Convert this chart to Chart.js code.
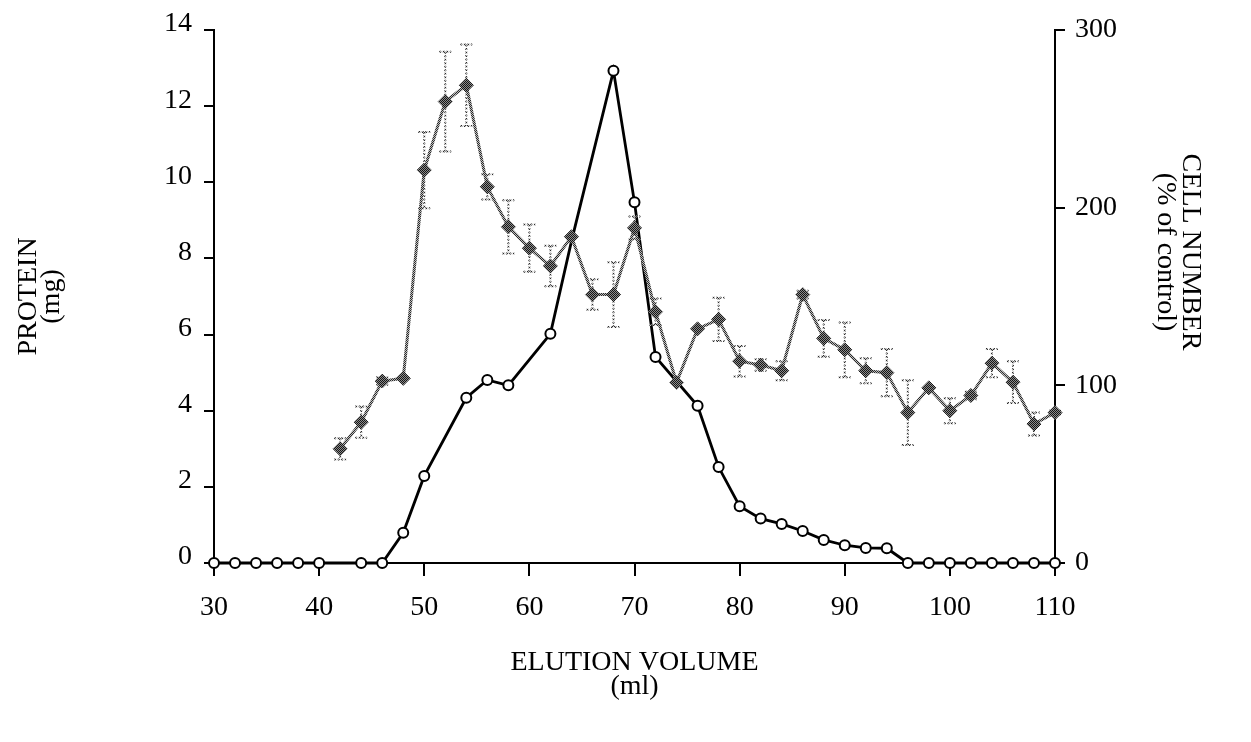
<!DOCTYPE html>
<html>
<head>
<meta charset="utf-8">
<script src="https://cdn.jsdelivr.net/npm/chart.js@4.4.1/dist/chart.umd.min.js"></script>
<style>
html,body{margin:0;padding:0;background:#fff;}
#wrap{width:1251px;height:742px;position:relative;}
</style>
</head>
<body>
<div id="wrap"><canvas id="c"></canvas></div>
<script>
// ---- data ----
const xTicks = [30, 40, 50, 60, 70, 80, 90, 100, 110];
const proteinTicks = [0, 2, 4, 6, 8, 10, 12, 14];
const cellTicks = [0, 100, 200, 300];

const proteinVolume = [42,44,46,48,50,52,54,56,58,60,62,64,66,68,70,72,74,76,78,80,82,84,86,88,90,92,94,96,98,100,102,104,106,108,110];
const proteinMg     = [3.0,3.7,4.78,4.85,10.32,12.12,12.55,9.88,8.83,8.27,7.8,8.57,7.05,7.05,8.8,6.6,4.74,6.15,6.4,5.3,5.2,5.05,7.05,5.9,5.6,5.05,5.0,3.95,4.6,4.0,4.4,5.25,4.75,3.65,3.95];
const proteinErr    = [0.28,0.41,0.1,0,1.0,1.31,1.07,0.33,0.7,0.62,0.53,0,0.4,0.85,0.3,0.35,0,0,0.57,0.4,0.15,0.25,0.1,0.48,0.72,0.33,0.62,0.85,0,0.33,0.1,0.37,0.55,0.3,0.05];

const cellVolume = [30,32,34,36,38,40,44,46,48,50,54,56,58,62,64,68,70,72,76,78,80,82,84,86,88,90,92,94,96,98,100,102,104,106,108,110];
const cellPct    = [0,0,0,0,0,0,0,0,17,49,93,103,100,129,181,277,203,116,88.5,54,32,25,22,18,13,10,8.5,8.3,0,0,0,0,0,0,0,0];
const cellHiddenAt = [64];   // points covered by the protein markers

// ---- patterns (halftone look) ----
function makePattern(a, b){
  const pc = document.createElement('canvas'); pc.width = 2; pc.height = 2;
  const g = pc.getContext('2d');
  g.fillStyle = b; g.fillRect(0,0,2,2);
  g.fillStyle = a; g.fillRect(0,0,1,1); g.fillRect(1,1,1,1);
  return g.createPattern(pc, 'repeat');
}
const ctx0 = document.getElementById('c').getContext('2d');
const lineHalftone = makePattern('#2a2a2a', '#bdbdbd');
const markHalftone = makePattern('#151515', '#8c8c8c');

Chart.defaults.font.family = '"Liberation Serif", "Times New Roman", serif';
Chart.defaults.color = '#000';

const F = 28;

const errorBars = {
  id: 'errorBars',
  beforeDatasetDraw(chart, args){
    if (args.index !== 0) return;
    const {ctx, scales} = chart;
    const xs = scales.x, ys = scales.y;
    ctx.save();
    ctx.strokeStyle = lineHalftone;
    ctx.lineWidth = 2;
    ctx.setLineDash([2, 1.5]);
    proteinVolume.forEach((v, i) => {
      const e = proteinErr[i];
      if (!e) return;
      const px = xs.getPixelForValue(v);
      const yt = ys.getPixelForValue(proteinMg[i] + e);
      const yb = ys.getPixelForValue(proteinMg[i] - e);
      ctx.beginPath();
      ctx.moveTo(px, yt); ctx.lineTo(px, yb);
      ctx.moveTo(px - 6, yt); ctx.lineTo(px + 6, yt);
      ctx.moveTo(px - 6, yb); ctx.lineTo(px + 6, yb);
      ctx.stroke();
    });
    ctx.restore();
  }
};

const rightTitle = {
  id: 'rightTitle',
  afterDraw(chart){
    const {ctx, chartArea} = chart;
    const cy = chartArea.top + 222;
    ctx.save();
    ctx.fillStyle = '#000';
    ctx.font = F + 'px "Liberation Serif", serif';
    ctx.textAlign = 'center';
    ctx.textBaseline = 'middle';
    [['CELL NUMBER', chartArea.right + 135], ['(% of control)', chartArea.right + 110]].forEach(([t, x]) => {
      ctx.save();
      ctx.translate(x, cy);
      ctx.rotate(Math.PI / 2);
      ctx.fillText(t, 0, 0);
      ctx.restore();
    });
    ctx.restore();
  }
};

const axisGrid = {drawOnChartArea: false, drawTicks: true, tickLength: 10, color: '#000', lineWidth: 2};
const axisBorder = {display: true, color: '#000', width: 2};

new Chart(ctx0, {
  type: 'line',
  data: {
    datasets: [
      {
        label: 'Protein',
        data: proteinVolume.map((v, i) => ({x: v, y: proteinMg[i]})),
        yAxisID: 'y',
        borderColor: lineHalftone,
        borderWidth: 3,
        pointStyle: 'rectRot',
        pointRadius: 7,
        pointBackgroundColor: markHalftone,
        pointBorderColor: markHalftone,
        pointBorderWidth: 1,
        tension: 0,
        clip: false
      },
      {
        label: 'Cell number',
        data: cellVolume.map((v, i) => ({x: v, y: cellPct[i]})),
        yAxisID: 'y1',
        borderColor: '#000',
        borderWidth: 2.8,
        pointStyle: 'circle',
        pointRadius: c => (c.raw && cellHiddenAt.includes(c.raw.x)) ? 0 : 5,
        pointBackgroundColor: '#fff',
        pointBorderColor: '#000',
        pointBorderWidth: 2,
        tension: 0,
        clip: false
      }
    ]
  },
  options: {
    responsive: true,
    maintainAspectRatio: false,
    animation: false,
    events: [],
    layout: {padding: {top: 30, left: 0, right: 0, bottom: 0}},
    plugins: {legend: {display: false}, tooltip: {enabled: false}},
    scales: {
      x: {
        type: 'linear',
        min: 30, max: 110,
        afterBuildTicks: s => { s.ticks = xTicks.map(v => ({value: v})); },
        afterFit: s => { s.height = 179; },
        grid: Object.assign({}, axisGrid, {tickLength: 13}),
        border: axisBorder,
        ticks: {font: {size: F}, padding: 15, maxRotation: 0},
        title: {
          display: true,
          text: ['ELUTION VOLUME', '(ml)'],
          font: {size: F, lineHeight: '24px'},
          padding: {top: 0, bottom: 43}
        }
      },
      y: {
        type: 'linear',
        position: 'left',
        min: 0, max: 14,
        afterBuildTicks: s => { s.ticks = proteinTicks.map(v => ({value: v})); },
        afterFit: s => { s.width = 214; },
        grid: axisGrid,
        border: axisBorder,
        ticks: {font: {size: F}, padding: 12, labelOffset: -6},
        title: {
          display: true,
          text: ['PROTEIN', '(mg)'],
          font: {size: F, lineHeight: '23px'},
          padding: {top: 17, bottom: 0}
        }
      },
      y1: {
        type: 'linear',
        position: 'right',
        min: 0, max: 300,
        afterBuildTicks: s => { s.ticks = cellTicks.map(v => ({value: v})); },
        afterFit: s => { s.width = 196; },
        grid: axisGrid,
        border: axisBorder,
        ticks: {font: {size: F}, padding: 10}
      }
    }
  },
  plugins: [errorBars, rightTitle]
});
</script>
</body>
</html>
